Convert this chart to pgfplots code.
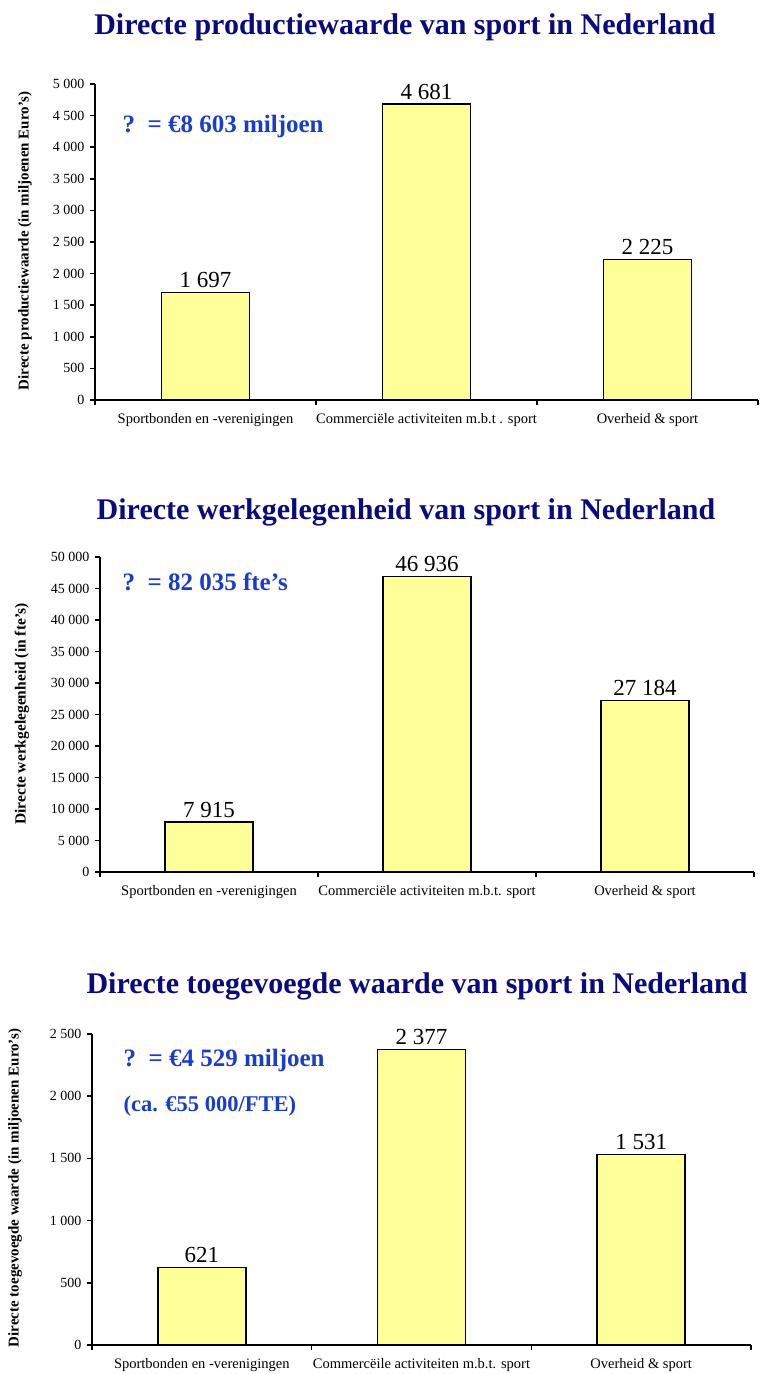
\documentclass[border=0pt]{standalone}
\usepackage{fontspec}
\setmainfont{Liberation Serif}
\usepackage{pgfplots}
\pgfplotsset{compat=1.18}
\definecolor{barfill}{RGB}{255,255,153}
\definecolor{titleblue}{RGB}{10,10,125}
\definecolor{annblue}{RGB}{25,60,205}
\newcommand{\fs}[1]{\fontsize{#1}{#1}\selectfont}
\pgfplotsset{mybar/.style={
  scale only axis, clip=false,
  xmin=-0.5, xmax=2.5, ymin=0,
  axis x line*=bottom, axis y line*=left,
  axis line style={line width=1.8pt,-},
  tick align=outside, major tick length=5pt,
  every tick/.style={line width=1.5pt, black},
  xtick={-0.5,0.5,1.5,2.5}, xticklabels={},
  extra x ticks={0,1,2},
  extra x tick style={major tick length=0pt, every tick/.style={draw=none},
     xticklabel style={font=\fs{14.5}, yshift=-10pt}},
  yticklabel style={font=\fs{14}, xshift=-2pt},
  scaled y ticks=false,
  /pgf/number format/.cd, 1000 sep={\ }, assume math mode=true, /pgfplots/.cd,
  ybar, bar width=88pt,
  point meta=explicit symbolic,
  nodes near coords,
  every node near coord/.style={font=\fs{23}, anchor=south, inner sep=4pt},
}}
\begin{document}
\begin{tikzpicture}[x=1pt,y=1pt]
\useasboundingbox (0pt,0pt) rectangle (765pt,1374pt);
% Chart 1
\node[font=\bfseries\fs{30}, text=titleblue] at (405pt,1347pt) {Directe productiewaarde van sport in Nederland};
\begin{axis}[mybar, at={(95pt,974pt)}, anchor=south west, width=663pt, height=316pt,
  ymax=5000, ytick={0,500,...,5000},
  extra x tick labels={Sportbonden en -verenigingen, Commerciële activiteiten m.b.t . sport, Overheid \& sport}]
\addplot[fill=barfill, draw=black, line width=1.5pt] coordinates {(0,1697) [1 697] (1,4681) [4 681] (2,2225) [2 225]};
\end{axis}
\node[rotate=90, font=\bfseries\fs{15}] at (25pt,1133pt) {Directe productiewaarde (in miljoenen Euro's)};
\node[anchor=west, font=\bfseries\fs{25}, text=annblue] at (119pt,1247pt) {?\ \ = €8 603 miljoen};
% Chart 2
\node[font=\bfseries\fs{30}, text=titleblue] at (406pt,862pt) {Directe werkgelegenheid van sport in Nederland};
\begin{axis}[mybar, at={(100pt,502pt)}, anchor=south west, width=654pt, height=315pt,
  ymax=50000, ytick={0,5000,...,50000},
  extra x tick labels={Sportbonden en -verenigingen, Commerciële activiteiten m.b.t. sport, Overheid \& sport}]
\addplot[fill=barfill, draw=black, line width=1.5pt] coordinates {(0,7915) [7 915] (1,46936) [46 936] (2,27184) [27 184]};
\end{axis}
\node[rotate=90, font=\bfseries\fs{15.5}] at (22pt,660pt) {Directe werkgelegenheid (in fte's)};
\node[anchor=west, font=\bfseries\fs{25}, text=annblue] at (119pt,792pt) {?\ \ = 82 035 fte’s};
% Chart 3
\node[font=\bfseries\fs{30}, text=titleblue] at (417pt,388pt) {Directe toegevoegde waarde van sport in Nederland};
\begin{axis}[mybar, at={(92pt,29pt)}, anchor=south west, width=659pt, height=311pt,
  ymax=2500, ytick={0,500,...,2500},
  extra x tick labels={Sportbonden en -verenigingen, Commercëile activiteiten m.b.t. sport, Overheid \& sport}]
\addplot[fill=barfill, draw=black, line width=1.5pt] coordinates {(0,621) [621] (1,2377) [2 377] (2,1531) [1 531]};
\end{axis}
\node[rotate=90, font=\bfseries\fs{15}] at (15pt,186pt) {Directe toegevoegde waarde (in miljoenen Euro's)};
\node[anchor=west, font=\bfseries\fs{25}, text=annblue] at (120pt,314pt) {?\ \ = €4 529 miljoen};
\node[anchor=west, font=\bfseries\fs{22.5}, text=annblue] at (120pt,268pt) {(ca. €55 000/FTE)};
\end{tikzpicture}
\end{document}
